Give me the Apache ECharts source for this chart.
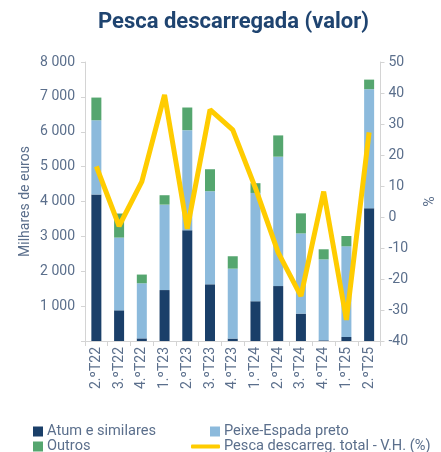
<!DOCTYPE html>
<html>
<head>
<meta charset="utf-8">
<script src="https://cdn.jsdelivr.net/npm/echarts@6/dist/echarts.min.js"></script>
<style>
html,body{margin:0;padding:0;background:#fff;}
#main{width:441px;height:452px;}
</style>
</head>
<body>
<div id="main"></div>
<script>
var categories=['2.ºT22','3.ºT22','4.ºT22','1.ºT23','2.ºT23','3.ºT23','4.ºT23','1.ºT24','2.ºT24','3.ºT24','4.ºT24','1.ºT25','2.ºT25'];
var atum=[4200,880,75,1460,3175,1625,70,1140,1575,785,20,115,3805];
var peixe=[2130,2085,1580,2450,2870,2670,2005,3105,3710,2300,2320,2600,3415];
var outros=[650,690,250,270,650,630,355,280,610,575,290,295,275];
var variacao=[16.3,-2.9,11.4,39.4,-3.8,34.6,28.1,9.3,-11.5,-25.5,8.2,-33.2,27.3];

var txt='#5b6f8c';
var myChart=echarts.init(document.getElementById('main'));

function milhares(v){
    return String(v).replace(/\B(?=(\d{3})+(?!\d))/g,' ');
}
function legenda(nome,left,top,w,h,icon){
    return {
        data:[nome],left:left,top:top,padding:0,
        itemWidth:w,itemHeight:h,itemGap:0,
        icon:icon,
        textStyle:{fontFamily:'Roboto',fontSize:14.6,color:txt,padding:[0,0,0,-1]}
    };
}

option={
    animation:false,
    textStyle:{fontFamily:'Roboto'},
    title:{
        text:'Pesca descarregada (valor)',
        left:93,
        top:6,
        textStyle:{fontFamily:'Roboto',fontWeight:'bold',fontSize:22,color:'#1f4470'}
    },
    legend:[
        legenda('Atum e similares',33,424,10,10,'rect'),
        legenda('Outros',33,439,10,10,'rect'),
        legenda('Peixe-Espada preto',210,424,10,10,'rect'),
        legenda('Pesca descarreg. total - V.H. (%)',191,439,29,4,'roundRect')
    ],
    grid:{left:85,right:45,top:62,bottom:111},
    xAxis:{
        type:'category',
        data:categories,
        axisLine:{lineStyle:{color:'#d4d4d4',width:1}},
        axisTick:{show:true,alignWithLabel:false,length:5,lineStyle:{color:'#d4d4d4'}},
        axisLabel:{rotate:90,fontSize:14,color:txt,margin:6}
    },
    yAxis:[
        {
            type:'value',
            min:0,max:8000,interval:1000,
            name:'Milhares de euros',
            nameLocation:'middle',
            nameGap:53,
            nameMoveOverlap:false,
            nameTextStyle:{fontSize:14,color:txt},
            axisLine:{show:true,lineStyle:{color:'#d4d4d4'}},
            axisTick:{show:true,length:4,lineStyle:{color:'#d4d4d4'}},
            splitLine:{show:false},
            axisLabel:{fontSize:14,color:txt,margin:10,formatter:function(v){return v===0?'':milhares(v);}}
        },
        {
            type:'value',
            min:-40,max:50,interval:10,
            name:'%',
            nameLocation:'middle',
            nameGap:32,
            nameRotate:-90,
            nameTextStyle:{fontSize:14,color:txt},
            axisLine:{show:true,lineStyle:{color:'#d4d4d4'}},
            axisTick:{show:true,length:4,lineStyle:{color:'#d4d4d4'}},
            splitLine:{show:false},
            axisLabel:{fontSize:14,color:txt,margin:8}
        }
    ],
    series:[
        {name:'Atum e similares',type:'bar',stack:'v',barWidth:10,data:atum,itemStyle:{color:'#1a3f69'}},
        {name:'Peixe-Espada preto',type:'bar',stack:'v',barWidth:10,data:peixe,itemStyle:{color:'#8cbadc'}},
        {name:'Outros',type:'bar',stack:'v',barWidth:10,data:outros,itemStyle:{color:'#55a66f'}},
        {name:'Pesca descarreg. total - V.H. (%)',type:'line',yAxisIndex:1,data:variacao,
            showSymbol:false,symbol:'none',lineStyle:{color:'#ffcc00',width:5},itemStyle:{color:'#ffcc00'}}
    ]
};
myChart.setOption(option);
</script>
</body>
</html>
